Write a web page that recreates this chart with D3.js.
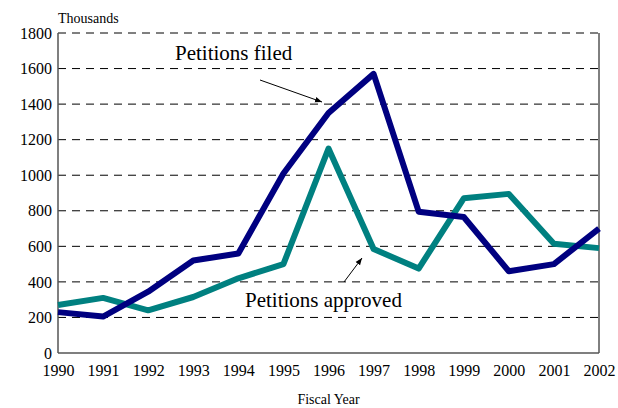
<!DOCTYPE html>
<html>
<head>
<meta charset="utf-8">
<script src="https://cdn.jsdelivr.net/npm/d3@7"></script>
<style>
  body { margin: 0; background: #fff; }
  svg text { font-family: "Liberation Serif", "Times New Roman", serif; fill: #000; }
</style>
</head>
<body>
<script>
const years = [1990, 1991, 1992, 1993, 1994, 1995, 1996, 1997, 1998, 1999, 2000, 2001, 2002];
const filed = [230, 205, 345, 520, 560, 1010, 1350, 1570, 795, 765, 460, 500, 700];
const approved = [270, 310, 240, 315, 420, 500, 1150, 585, 475, 870, 895, 615, 590];
const yTicks = [0, 200, 400, 600, 800, 1000, 1200, 1400, 1600, 1800];

const w = 618, h = 408;
const m = { left: 58, right: 19, top: 33, bottom: 55 };
const serif = '"Liberation Serif", "Times New Roman", serif';

const svg = d3.select('body').append('svg')
  .attr('width', w)
  .attr('height', h)
  .attr('font-family', serif);

const x = d3.scaleLinear().domain([1990, 2002]).range([m.left, w - m.right]);
const y = d3.scaleLinear().domain([0, 1800]).range([h - m.bottom, m.top]);

// grid
svg.append('g')
  .selectAll('line')
  .data(yTicks.filter(d => d > 0))
  .join('line')
  .attr('x1', m.left).attr('x2', w - m.right)
  .attr('y1', d => y(d)).attr('y2', d => y(d))
  .attr('stroke', '#000')
  .attr('stroke-width', 1)
  .attr('stroke-dasharray', '8,6');

// frame
svg.append('line')
  .attr('x1', m.left).attr('x2', m.left)
  .attr('y1', y(0)).attr('y2', y(1800))
  .attr('stroke', '#555').attr('stroke-width', 1.5);
svg.append('line')
  .attr('x1', w - m.right).attr('x2', w - m.right)
  .attr('y1', y(0)).attr('y2', y(1800))
  .attr('stroke', '#000').attr('stroke-width', 1);
svg.append('line')
  .attr('x1', m.left).attr('x2', w - m.right)
  .attr('y1', y(0)).attr('y2', y(0))
  .attr('stroke', '#555').attr('stroke-width', 1.5);

// axes
const yAxis = svg.append('g')
  .attr('transform', 'translate(' + m.left + ',0)')
  .call(d3.axisLeft(y).tickValues(yTicks).tickFormat(d3.format('d')).tickSize(0).tickPadding(6));
const xAxis = svg.append('g')
  .attr('transform', 'translate(0,' + y(0) + ')')
  .call(d3.axisBottom(x).tickValues(years).tickFormat(d3.format('d')).tickSize(0).tickPadding(12));
[yAxis, xAxis].forEach(a => {
  a.attr('font-family', serif).attr('font-size', 16);
  a.select('.domain').remove();
  a.selectAll('text').attr('fill', '#000');
});

svg.append('text')
  .attr('x', 58).attr('y', 23)
  .attr('font-size', 14)
  .text('Thousands');

svg.append('text')
  .attr('x', (m.left + w - m.right) / 2).attr('y', 404)
  .attr('text-anchor', 'middle')
  .attr('font-size', 14)
  .text('Fiscal Year');

// lines
const line = d3.line()
  .x((d, i) => x(years[i]))
  .y(d => y(d));

svg.append('path')
  .datum(approved)
  .attr('d', line)
  .attr('fill', 'none')
  .attr('stroke', '#008080')
  .attr('stroke-width', 6)
  .attr('stroke-linejoin', 'round');

svg.append('path')
  .datum(filed)
  .attr('d', line)
  .attr('fill', 'none')
  .attr('stroke', '#000080')
  .attr('stroke-width', 6)
  .attr('stroke-linejoin', 'round');

// annotations
svg.append('defs').append('marker')
  .attr('id', 'arr')
  .attr('viewBox', '0 0 10 10')
  .attr('refX', 10).attr('refY', 5)
  .attr('markerWidth', 7).attr('markerHeight', 7)
  .attr('orient', 'auto')
  .append('path')
  .attr('d', 'M0,1L10,5L0,9Z')
  .attr('fill', '#000');

svg.append('text')
  .attr('x', 175).attr('y', 60)
  .attr('font-size', 21)
  .text('Petitions filed');
svg.append('line')
  .attr('x1', 260).attr('y1', 80)
  .attr('x2', 322).attr('y2', 102)
  .attr('stroke', '#000').attr('stroke-width', 1)
  .attr('marker-end', 'url(#arr)');

svg.append('text')
  .attr('x', 245).attr('y', 307)
  .attr('font-size', 21)
  .text('Petitions approved');
svg.append('line')
  .attr('x1', 344).attr('y1', 282)
  .attr('x2', 362).attr('y2', 258)
  .attr('stroke', '#000').attr('stroke-width', 1)
  .attr('marker-end', 'url(#arr)');
</script>
</body>
</html>
